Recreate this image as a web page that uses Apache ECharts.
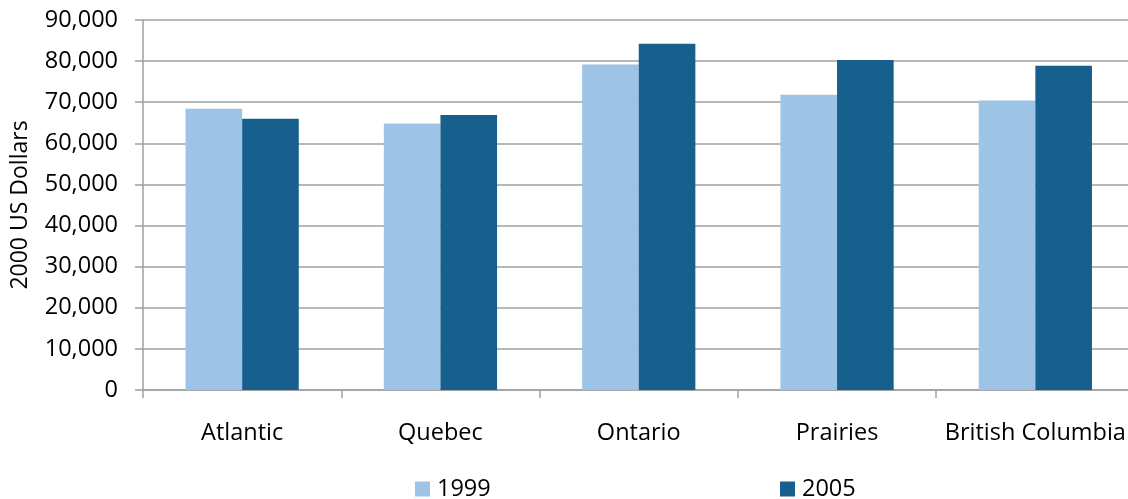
<!DOCTYPE html>
<html>
<head>
<meta charset="utf-8">
<script src="https://cdn.jsdelivr.net/npm/echarts@6/dist/echarts.min.js"></script>
<style>
html,body{margin:0;padding:0;background:#fff;}
#c{width:1128px;height:499px;}
</style>
</head>
<body>
<div id="c"></div>
<script>
const categories = ["Atlantic", "Quebec", "Ontario", "Prairies", "British Columbia"];
const values1999 = [68400, 64800, 79200, 71800, 70400];
const values2005 = [66000, 66900, 84200, 80300, 78900];
const seriesNames = ["1999", "2005"];
const yTicks = [0, 10000, 20000, 30000, 40000, 50000, 60000, 70000, 80000, 90000];

const FONT = "Open Sans";
const FS = 23.5;
const chart = echarts.init(document.getElementById('c'));
chart.setOption({
  animation: false,
  textStyle: { fontFamily: FONT },
  grid: { left: 143, top: 20, width: 991.5, bottom: 109, containLabel: false, outerBoundsMode: 'none' },
  legend: [
    { data: [seriesNames[0]], left: 410, top: 472, itemWidth: 15, itemHeight: 15, itemGap: 0,
      icon: 'rect', textStyle: { fontFamily: FONT, fontSize: FS, color: '#000', padding: [0,0,0,2] } },
    { data: [seriesNames[1]], left: 775, top: 472, itemWidth: 15, itemHeight: 15, itemGap: 0,
      icon: 'rect', textStyle: { fontFamily: FONT, fontSize: FS, color: '#000', padding: [0,0,0,2] } }
  ],
  xAxis: {
    type: 'category',
    data: categories,
    boundaryGap: true,
    axisLine: { show: true, lineStyle: { color: '#A0A0A0', width: 1.5 } },
    axisTick: { show: true, length: 8, lineStyle: { color: '#A0A0A0', width: 1.5 } },
    axisLabel: { fontFamily: FONT, fontSize: FS, color: '#000', margin: 31, interval: 0 }
  },
  yAxis: {
    type: 'value',
    min: yTicks[0],
    max: yTicks[yTicks.length - 1],
    interval: yTicks[1] - yTicks[0],
    name: '2000 US Dollars',
    nameLocation: 'middle',
    nameGap: 111,
    nameRotate: 90,
    nameTextStyle: { fontFamily: FONT, fontSize: 23, color: '#000' },
    axisLine: { show: true, lineStyle: { color: '#A0A0A0', width: 1.5 } },
    axisTick: { show: true, length: 8, lineStyle: { color: '#A0A0A0', width: 1.5 } },
    splitLine: { show: true, lineStyle: { color: '#A0A0A0', width: 1.5 } },
    axisLabel: {
      fontFamily: FONT, fontSize: FS, color: '#000', margin: 25,
      formatter: v => v.toLocaleString('en-US')
    }
  },
  series: [
    { name: seriesNames[0], type: 'bar', data: values1999, barGap: '0%', barCategoryGap: '42.9%',
      itemStyle: { color: '#9DC3E6' } },
    { name: seriesNames[1], type: 'bar', data: values2005, barGap: '0%', barCategoryGap: '42.9%',
      itemStyle: { color: '#17608D' } }
  ]
});
</script>
</body>
</html>
